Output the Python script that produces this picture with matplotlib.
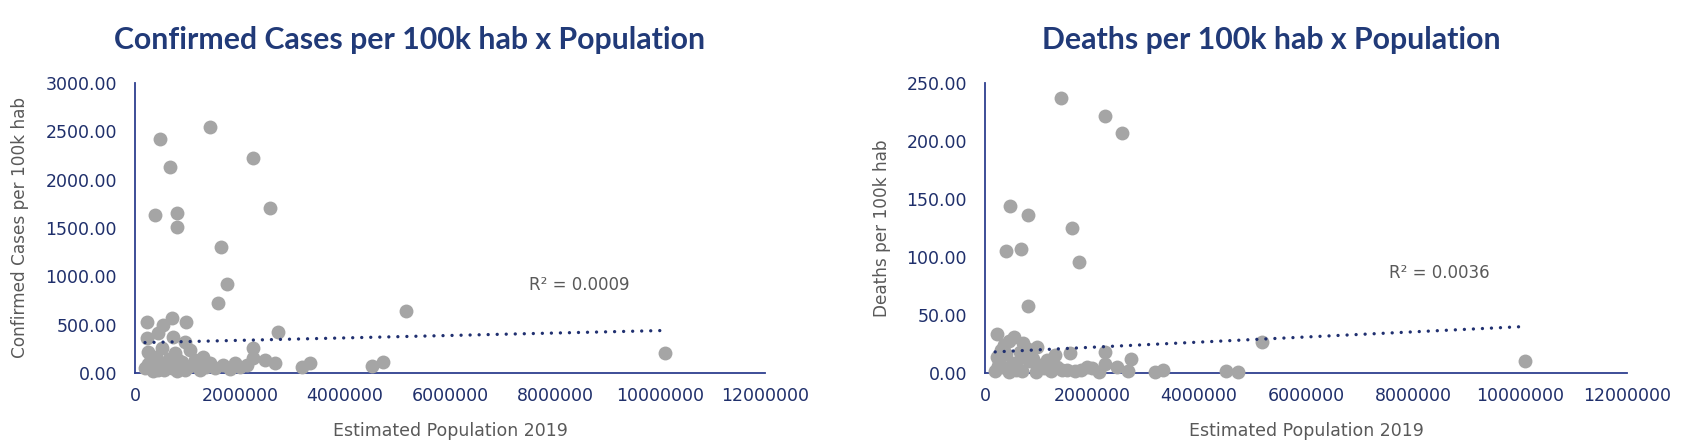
import numpy as np
import matplotlib.pyplot as plt

# values (population in millions)
population = [0.476, 1.42, 0.667, 2.25, 0.387, 0.80, 0.806, 2.566, 1.632, 1.752,
              1.587, 0.223, 0.539, 0.71, 0.966, 2.73, 0.223, 0.444, 0.73, 0.952,
              2.25, 5.17, 10.1, 0.253, 0.509, 0.762, 1.048, 1.30, 0.318, 0.571,
              0.825, 1.11, 1.43, 1.68, 1.905, 2.13, 2.25, 2.476, 2.667, 3.175,
              3.33, 0.19, 0.444, 0.699, 0.952, 1.238, 1.524, 4.51, 4.73, 0.30,
              0.60, 0.90, 1.00, 0.35, 0.80, 1.35, 1.80, 2.00, 0.25, 0.40,
              0.65, 0.55, 1.15]
cases = [2420, 2544, 2130, 2220, 1634, 1651, 1513, 1703, 1306, 920,
         727, 524, 496, 566, 524, 427, 365, 410, 375, 324,
         262, 641, 210, 220, 255, 204, 238, 169, 117, 100,
         134, 83, 100, 83, 100, 83, 152, 134, 100, 65,
         100, 49, 31, 49, 31, 31, 49, 72, 117, 150,
         60, 110, 60, 20, 20, 60, 40, 60, 90, 170,
         140, 35, 130]
deaths = [144, 237, 107, 221.5, 105, 136, 58, 206.6, 124.7, 96,
          17, 33.6, 31, 26, 22, 12, 14, 28, 14, 8,
          18, 27, 10, 10, 8, 14, 6, 15.5, 5, 3,
          10, 4, 3, 2, 5.4, 1, 8, 5.4, 2, 0.6,
          3, 2, 1, 2, 1, 2, 3, 2, 1, 20,
          4, 12, 6, 24, 21, 5, 3, 4, 6, 16,
          18, 9, 11]
population = np.array(population) * 1e6

# linear trendlines as drawn in the reference (start/end of population range)
trend_x = [0.19e6, 10.1e6]
trend_cases = [315, 440]
trend_deaths = [18.2, 40.1]
r2_cases = "R\u00b2 = 0.0009"
r2_deaths = "R\u00b2 = 0.0036"

navy = "#1f2f6b"
title_c = "#213a78"
spine_c = "#2e3f8f"
grey_txt = "#595959"
dot_c = "#a5a5a5"

fig = plt.figure(figsize=(16.92, 4.48), dpi=100)
ax1 = fig.add_axes([135/1692, 75/448, 630/1692, 290/448])
ax2 = fig.add_axes([985/1692, 75/448, 642/1692, 290/448])


def style(ax, yvals, ytop, ystep, trend_y, ylabel, r2, r2pos, ylab_x):
    ax.scatter(population, yvals, s=100, color=dot_c, zorder=3, clip_on=False, linewidths=0)
    ax.plot(trend_x, trend_y, color="#203070", linewidth=2.4,
            linestyle=(0, (0.01, 2.7)), dash_capstyle="round", zorder=4)
    ax.set_xlim(0, 12e6)
    ax.set_ylim(0, ytop)
    ax.set_xticks(np.arange(0, 12e6 + 1, 2e6))
    ax.set_xticklabels([f"{int(v)}" for v in np.arange(0, 12e6 + 1, 2e6)])
    ax.set_yticks(np.arange(0, ytop + 1, ystep))
    ax.set_yticklabels([f"{v:.2f}" for v in np.arange(0, ytop + 1, ystep)])
    for s in ["top", "right"]:
        ax.spines[s].set_visible(False)
    for s in ["left", "bottom"]:
        ax.spines[s].set_color(spine_c)
        ax.spines[s].set_linewidth(1.3)
    ax.tick_params(axis="both", length=0, labelsize=12.5, labelcolor=navy)
    ax.tick_params(axis="y", pad=13)
    ax.tick_params(axis="x", pad=10)
    ax.set_xlabel("Estimated Population 2019", fontsize=12.5, color=grey_txt)
    ax.xaxis.set_label_coords(0.5, -0.17)
    ax.set_ylabel(ylabel, fontsize=12.2, color=grey_txt)
    ax.yaxis.set_label_coords(ylab_x, 0.5)
    ax.text(r2pos[0], r2pos[1], r2, transform=ax.transAxes, fontsize=12,
            color=grey_txt, ha="center", va="center")


style(ax1, cases, 3000, 500, trend_cases, "Confirmed Cases per 100k hab",
      r2_cases, (0.705, 0.303), -0.168)
style(ax2, deaths, 250, 50, trend_deaths, "Deaths per 100k hab",
      r2_deaths, (0.707, 0.345), -0.146)

fig.text(410/1692, 1 - 40/448, "Confirmed Cases per 100k hab x Population",
         fontsize=21.8, fontweight="bold", family="Lato", color=title_c,
         ha="center", va="center")
fig.text(1271/1692, 1 - 40/448, "Deaths per 100k hab x Population",
         fontsize=21.8, fontweight="bold", family="Lato", color=title_c,
         ha="center", va="center")

fig.savefig("out.png", dpi=100)
